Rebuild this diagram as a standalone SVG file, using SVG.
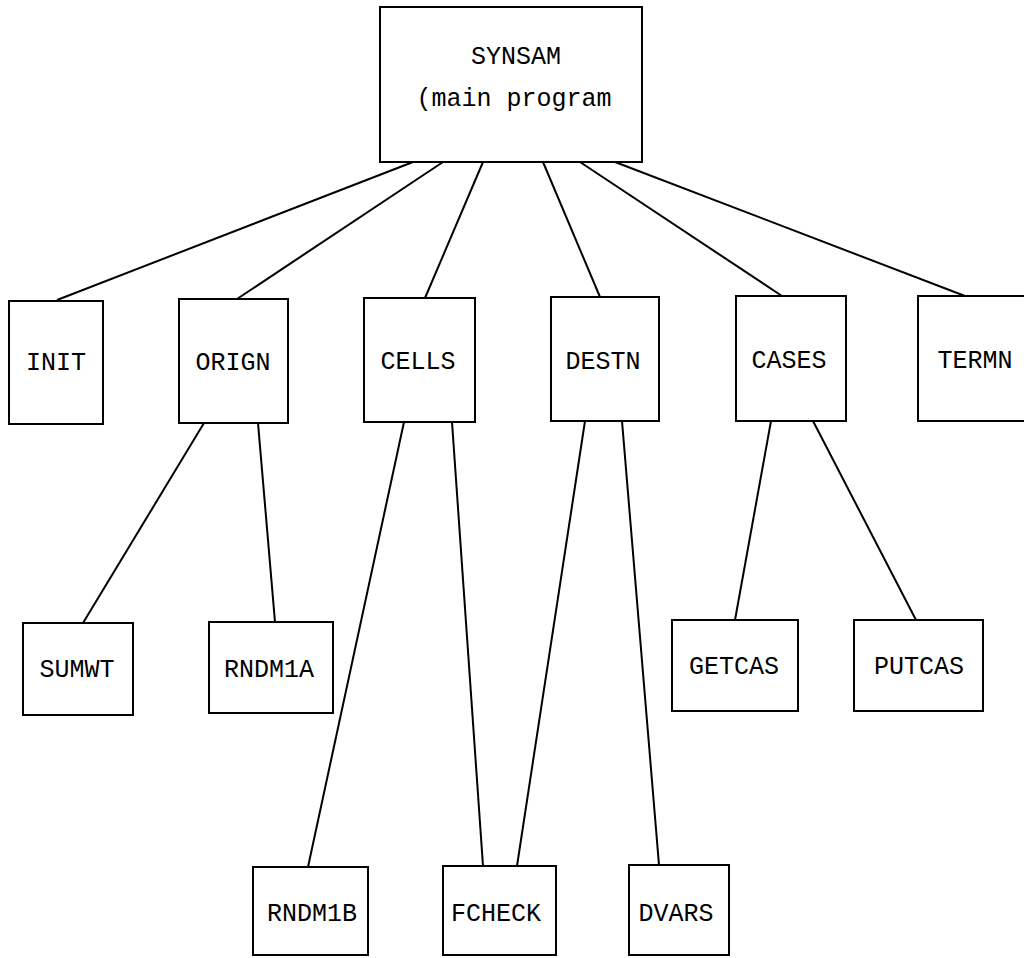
<svg xmlns="http://www.w3.org/2000/svg" width="1024" height="958" viewBox="0 0 1024 958">
<style>
.box{fill:#fff;stroke:#000;stroke-width:2}
.lbl{font-family:"Liberation Mono","Courier New",monospace;font-size:25px;fill:#000;text-anchor:middle}
.con line{stroke:#000;stroke-width:2}
</style>
<rect width="1024" height="958" fill="#fff"/>
<g id="connectors" class="con">
<line x1="413" y1="162" x2="57" y2="300"/>
<line x1="443" y1="162" x2="237" y2="299"/>
<line x1="483" y1="162" x2="425" y2="298"/>
<line x1="543" y1="162" x2="600" y2="297"/>
<line x1="580" y1="162" x2="782" y2="296"/>
<line x1="615" y1="162" x2="965" y2="296"/>
<line x1="204" y1="423" x2="83" y2="623"/>
<line x1="258" y1="423" x2="275" y2="622"/>
<line x1="404" y1="422" x2="308" y2="867"/>
<line x1="452" y1="422" x2="483" y2="866"/>
<line x1="585" y1="421" x2="517" y2="866"/>
<line x1="622" y1="421" x2="659" y2="865"/>
<line x1="771" y1="421" x2="735" y2="620"/>
<line x1="813" y1="421" x2="916" y2="620"/>
</g>
<g id="SYNSAM"><rect class="box" x="380" y="7" width="262" height="155"/><text class="lbl" x="516" y="64">SYNSAM</text><text class="lbl" x="514" y="106">(main program</text></g>
<g id="INIT"><rect class="box" x="9" y="301" width="94" height="123"/><text class="lbl" x="56" y="370">INIT</text></g>
<g id="ORIGN"><rect class="box" x="179" y="299" width="109" height="124"/><text class="lbl" x="233" y="370">ORIGN</text></g>
<g id="CELLS"><rect class="box" x="364" y="298" width="111" height="124"/><text class="lbl" x="418" y="369">CELLS</text></g>
<g id="DESTN"><rect class="box" x="551" y="297" width="108" height="124"/><text class="lbl" x="603" y="369">DESTN</text></g>
<g id="CASES"><rect class="box" x="736" y="296" width="110" height="125"/><text class="lbl" x="789" y="368">CASES</text></g>
<g id="TERMN"><rect class="box" x="918" y="296" width="112" height="125"/><text class="lbl" x="975" y="368">TERMN</text></g>
<g id="SUMWT"><rect class="box" x="23" y="623" width="110" height="92"/><text class="lbl" x="77" y="677">SUMWT</text></g>
<g id="RNDM1A"><rect class="box" x="209" y="622" width="124" height="91"/><text class="lbl" x="269" y="677">RNDM1A</text></g>
<g id="GETCAS"><rect class="box" x="672" y="620" width="126" height="91"/><text class="lbl" x="734" y="674">GETCAS</text></g>
<g id="PUTCAS"><rect class="box" x="854" y="620" width="129" height="91"/><text class="lbl" x="919" y="674">PUTCAS</text></g>
<g id="RNDM1B"><rect class="box" x="253" y="867" width="115" height="88"/><text class="lbl" x="312" y="921">RNDM1B</text></g>
<g id="FCHECK"><rect class="box" x="443" y="866" width="113" height="89"/><text class="lbl" x="496" y="921">FCHECK</text></g>
<g id="DVARS"><rect class="box" x="629" y="865" width="100" height="90"/><text class="lbl" x="676" y="921">DVARS</text></g>
</svg>
